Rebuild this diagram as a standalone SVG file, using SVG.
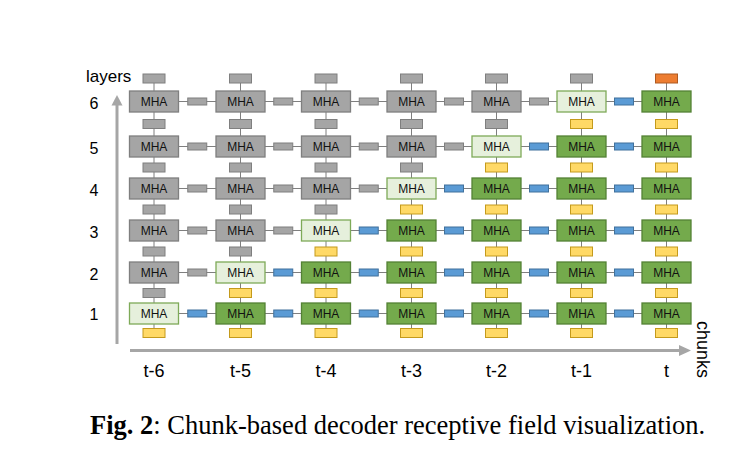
<svg xmlns="http://www.w3.org/2000/svg" width="748" height="452" viewBox="0 0 748 452">
<style>
.g{fill:#a5a5a5;stroke:#7f7f7f;stroke-width:1.3}
.l{fill:#e6f0dc;stroke:#7eaa58;stroke-width:1.3}
.d{fill:#74aa4c;stroke:#548235;stroke-width:1.3}
.sg{fill:#a5a5a5;stroke:#7f7f7f;stroke-width:1}
.y{fill:#ffd966;stroke:#c49a1c;stroke-width:1}
.b{fill:#5b9bd5;stroke:#41719c;stroke-width:1}
.o{fill:#ed7d31;stroke:#ae5a21;stroke-width:1}
.t{font-family:"Liberation Sans",Arial,sans-serif;font-size:12px;text-anchor:middle;fill:#111}
.lab{font-family:"Liberation Sans",Arial,sans-serif;fill:#000}
.ln{stroke:#7f7f7f;stroke-width:1;fill:none}
.ax{stroke:#a6a6a6;stroke-width:3;fill:none}
</style>
<rect width="748" height="452" fill="#fff"/>
<g id="connectors">
<path class="ln" d="M154 78V333M240.5 78V333M326 78V333M411.5 78V333M496.5 78V333M581.5 78V333M666.5 78V333"/>
<path class="ln" d="M154 313.5H666.5M154 272.5H666.5M154 230.5H666.5M154 188.5H666.5M154 146.5H666.5M154 101.5H666.5"/>
</g>
<g id="axes">
<path class="ax" d="M117 344V104"/>
<polygon points="117,95 111.5,105.5 122.5,105.5" fill="#a6a6a6"/>
<path class="ax" d="M130 350.5H680"/>
<polygon points="691,350.5 679,345 679,356" fill="#a6a6a6"/>
</g>
<g id="small-boxes">
<rect class="y" x="143" y="328.5" width="22" height="9"/>
<rect class="y" x="229.5" y="328.5" width="22" height="9"/>
<rect class="y" x="315" y="328.5" width="22" height="9"/>
<rect class="y" x="400.5" y="328.5" width="22" height="9"/>
<rect class="y" x="485.5" y="328.5" width="22" height="9"/>
<rect class="y" x="570.5" y="328.5" width="22" height="9"/>
<rect class="y" x="655.5" y="328.5" width="22" height="9"/>
<rect class="sg" x="143" y="288.5" width="22" height="9"/>
<rect class="y" x="229.5" y="288.5" width="22" height="9"/>
<rect class="y" x="315" y="288.5" width="22" height="9"/>
<rect class="y" x="400.5" y="288.5" width="22" height="9"/>
<rect class="y" x="485.5" y="288.5" width="22" height="9"/>
<rect class="y" x="570.5" y="288.5" width="22" height="9"/>
<rect class="y" x="655.5" y="288.5" width="22" height="9"/>
<rect class="sg" x="143" y="247" width="22" height="9"/>
<rect class="sg" x="229.5" y="247" width="22" height="9"/>
<rect class="y" x="315" y="247" width="22" height="9"/>
<rect class="y" x="400.5" y="247" width="22" height="9"/>
<rect class="y" x="485.5" y="247" width="22" height="9"/>
<rect class="y" x="570.5" y="247" width="22" height="9"/>
<rect class="y" x="655.5" y="247" width="22" height="9"/>
<rect class="sg" x="143" y="205" width="22" height="9"/>
<rect class="sg" x="229.5" y="205" width="22" height="9"/>
<rect class="sg" x="315" y="205" width="22" height="9"/>
<rect class="y" x="400.5" y="205" width="22" height="9"/>
<rect class="y" x="485.5" y="205" width="22" height="9"/>
<rect class="y" x="570.5" y="205" width="22" height="9"/>
<rect class="y" x="655.5" y="205" width="22" height="9"/>
<rect class="sg" x="143" y="163" width="22" height="9"/>
<rect class="sg" x="229.5" y="163" width="22" height="9"/>
<rect class="sg" x="315" y="163" width="22" height="9"/>
<rect class="sg" x="400.5" y="163" width="22" height="9"/>
<rect class="y" x="485.5" y="163" width="22" height="9"/>
<rect class="y" x="570.5" y="163" width="22" height="9"/>
<rect class="y" x="655.5" y="163" width="22" height="9"/>
<rect class="sg" x="143" y="119.5" width="22" height="9"/>
<rect class="sg" x="229.5" y="119.5" width="22" height="9"/>
<rect class="sg" x="315" y="119.5" width="22" height="9"/>
<rect class="sg" x="400.5" y="119.5" width="22" height="9"/>
<rect class="sg" x="485.5" y="119.5" width="22" height="9"/>
<rect class="y" x="570.5" y="119.5" width="22" height="9"/>
<rect class="y" x="655.5" y="119.5" width="22" height="9"/>
<rect class="sg" x="143" y="74" width="22" height="9"/>
<rect class="sg" x="229.5" y="74" width="22" height="9"/>
<rect class="sg" x="315" y="74" width="22" height="9"/>
<rect class="sg" x="400.5" y="74" width="22" height="9"/>
<rect class="sg" x="485.5" y="74" width="22" height="9"/>
<rect class="sg" x="570.5" y="74" width="22" height="9"/>
<rect class="o" x="655.5" y="74" width="22" height="9"/>
<rect class="b" x="187.75" y="310" width="19" height="7"/>
<rect class="b" x="273.75" y="310" width="19" height="7"/>
<rect class="b" x="359.25" y="310" width="19" height="7"/>
<rect class="b" x="444.5" y="310" width="19" height="7"/>
<rect class="b" x="529.5" y="310" width="19" height="7"/>
<rect class="b" x="614.5" y="310" width="19" height="7"/>
<rect class="sg" x="187.75" y="269" width="19" height="7"/>
<rect class="b" x="273.75" y="269" width="19" height="7"/>
<rect class="b" x="359.25" y="269" width="19" height="7"/>
<rect class="b" x="444.5" y="269" width="19" height="7"/>
<rect class="b" x="529.5" y="269" width="19" height="7"/>
<rect class="b" x="614.5" y="269" width="19" height="7"/>
<rect class="sg" x="187.75" y="227" width="19" height="7"/>
<rect class="sg" x="273.75" y="227" width="19" height="7"/>
<rect class="b" x="359.25" y="227" width="19" height="7"/>
<rect class="b" x="444.5" y="227" width="19" height="7"/>
<rect class="b" x="529.5" y="227" width="19" height="7"/>
<rect class="b" x="614.5" y="227" width="19" height="7"/>
<rect class="sg" x="187.75" y="185" width="19" height="7"/>
<rect class="sg" x="273.75" y="185" width="19" height="7"/>
<rect class="sg" x="359.25" y="185" width="19" height="7"/>
<rect class="b" x="444.5" y="185" width="19" height="7"/>
<rect class="b" x="529.5" y="185" width="19" height="7"/>
<rect class="b" x="614.5" y="185" width="19" height="7"/>
<rect class="sg" x="187.75" y="143" width="19" height="7"/>
<rect class="sg" x="273.75" y="143" width="19" height="7"/>
<rect class="sg" x="359.25" y="143" width="19" height="7"/>
<rect class="sg" x="444.5" y="143" width="19" height="7"/>
<rect class="b" x="529.5" y="143" width="19" height="7"/>
<rect class="b" x="614.5" y="143" width="19" height="7"/>
<rect class="sg" x="187.75" y="98" width="19" height="7"/>
<rect class="sg" x="273.75" y="98" width="19" height="7"/>
<rect class="sg" x="359.25" y="98" width="19" height="7"/>
<rect class="sg" x="444.5" y="98" width="19" height="7"/>
<rect class="sg" x="529.5" y="98" width="19" height="7"/>
<rect class="b" x="614.5" y="98" width="19" height="7"/>
</g>
<g id="mha-1-0"><rect class="l" x="129.5" y="303" width="49" height="21"/><text class="t" x="154" y="317.8">MHA</text></g>
<g id="mha-1-1"><rect class="d" x="216" y="303" width="49" height="21"/><text class="t" x="240.5" y="317.8">MHA</text></g>
<g id="mha-1-2"><rect class="d" x="301.5" y="303" width="49" height="21"/><text class="t" x="326" y="317.8">MHA</text></g>
<g id="mha-1-3"><rect class="d" x="387" y="303" width="49" height="21"/><text class="t" x="411.5" y="317.8">MHA</text></g>
<g id="mha-1-4"><rect class="d" x="472" y="303" width="49" height="21"/><text class="t" x="496.5" y="317.8">MHA</text></g>
<g id="mha-1-5"><rect class="d" x="557" y="303" width="49" height="21"/><text class="t" x="581.5" y="317.8">MHA</text></g>
<g id="mha-1-6"><rect class="d" x="642" y="303" width="49" height="21"/><text class="t" x="666.5" y="317.8">MHA</text></g>
<g id="mha-2-0"><rect class="g" x="129.5" y="262" width="49" height="21"/><text class="t" x="154" y="276.8">MHA</text></g>
<g id="mha-2-1"><rect class="l" x="216" y="262" width="49" height="21"/><text class="t" x="240.5" y="276.8">MHA</text></g>
<g id="mha-2-2"><rect class="d" x="301.5" y="262" width="49" height="21"/><text class="t" x="326" y="276.8">MHA</text></g>
<g id="mha-2-3"><rect class="d" x="387" y="262" width="49" height="21"/><text class="t" x="411.5" y="276.8">MHA</text></g>
<g id="mha-2-4"><rect class="d" x="472" y="262" width="49" height="21"/><text class="t" x="496.5" y="276.8">MHA</text></g>
<g id="mha-2-5"><rect class="d" x="557" y="262" width="49" height="21"/><text class="t" x="581.5" y="276.8">MHA</text></g>
<g id="mha-2-6"><rect class="d" x="642" y="262" width="49" height="21"/><text class="t" x="666.5" y="276.8">MHA</text></g>
<g id="mha-3-0"><rect class="g" x="129.5" y="220" width="49" height="21"/><text class="t" x="154" y="234.8">MHA</text></g>
<g id="mha-3-1"><rect class="g" x="216" y="220" width="49" height="21"/><text class="t" x="240.5" y="234.8">MHA</text></g>
<g id="mha-3-2"><rect class="l" x="301.5" y="220" width="49" height="21"/><text class="t" x="326" y="234.8">MHA</text></g>
<g id="mha-3-3"><rect class="d" x="387" y="220" width="49" height="21"/><text class="t" x="411.5" y="234.8">MHA</text></g>
<g id="mha-3-4"><rect class="d" x="472" y="220" width="49" height="21"/><text class="t" x="496.5" y="234.8">MHA</text></g>
<g id="mha-3-5"><rect class="d" x="557" y="220" width="49" height="21"/><text class="t" x="581.5" y="234.8">MHA</text></g>
<g id="mha-3-6"><rect class="d" x="642" y="220" width="49" height="21"/><text class="t" x="666.5" y="234.8">MHA</text></g>
<g id="mha-4-0"><rect class="g" x="129.5" y="178" width="49" height="21"/><text class="t" x="154" y="192.8">MHA</text></g>
<g id="mha-4-1"><rect class="g" x="216" y="178" width="49" height="21"/><text class="t" x="240.5" y="192.8">MHA</text></g>
<g id="mha-4-2"><rect class="g" x="301.5" y="178" width="49" height="21"/><text class="t" x="326" y="192.8">MHA</text></g>
<g id="mha-4-3"><rect class="l" x="387" y="178" width="49" height="21"/><text class="t" x="411.5" y="192.8">MHA</text></g>
<g id="mha-4-4"><rect class="d" x="472" y="178" width="49" height="21"/><text class="t" x="496.5" y="192.8">MHA</text></g>
<g id="mha-4-5"><rect class="d" x="557" y="178" width="49" height="21"/><text class="t" x="581.5" y="192.8">MHA</text></g>
<g id="mha-4-6"><rect class="d" x="642" y="178" width="49" height="21"/><text class="t" x="666.5" y="192.8">MHA</text></g>
<g id="mha-5-0"><rect class="g" x="129.5" y="136" width="49" height="21"/><text class="t" x="154" y="150.8">MHA</text></g>
<g id="mha-5-1"><rect class="g" x="216" y="136" width="49" height="21"/><text class="t" x="240.5" y="150.8">MHA</text></g>
<g id="mha-5-2"><rect class="g" x="301.5" y="136" width="49" height="21"/><text class="t" x="326" y="150.8">MHA</text></g>
<g id="mha-5-3"><rect class="g" x="387" y="136" width="49" height="21"/><text class="t" x="411.5" y="150.8">MHA</text></g>
<g id="mha-5-4"><rect class="l" x="472" y="136" width="49" height="21"/><text class="t" x="496.5" y="150.8">MHA</text></g>
<g id="mha-5-5"><rect class="d" x="557" y="136" width="49" height="21"/><text class="t" x="581.5" y="150.8">MHA</text></g>
<g id="mha-5-6"><rect class="d" x="642" y="136" width="49" height="21"/><text class="t" x="666.5" y="150.8">MHA</text></g>
<g id="mha-6-0"><rect class="g" x="129.5" y="91" width="49" height="21"/><text class="t" x="154" y="105.8">MHA</text></g>
<g id="mha-6-1"><rect class="g" x="216" y="91" width="49" height="21"/><text class="t" x="240.5" y="105.8">MHA</text></g>
<g id="mha-6-2"><rect class="g" x="301.5" y="91" width="49" height="21"/><text class="t" x="326" y="105.8">MHA</text></g>
<g id="mha-6-3"><rect class="g" x="387" y="91" width="49" height="21"/><text class="t" x="411.5" y="105.8">MHA</text></g>
<g id="mha-6-4"><rect class="g" x="472" y="91" width="49" height="21"/><text class="t" x="496.5" y="105.8">MHA</text></g>
<g id="mha-6-5"><rect class="l" x="557" y="91" width="49" height="21"/><text class="t" x="581.5" y="105.8">MHA</text></g>
<g id="mha-6-6"><rect class="d" x="642" y="91" width="49" height="21"/><text class="t" x="666.5" y="105.8">MHA</text></g>
<g id="labels" class="lab">
<text x="86" y="82" font-size="17">layers</text>
<g font-size="16" text-anchor="middle">
<text x="94" y="108.5">6</text>
<text x="94" y="153.5">5</text>
<text x="94" y="195.5">4</text>
<text x="94" y="237.5">3</text>
<text x="94" y="279.5">2</text>
<text x="94" y="320">1</text>
</g>
<g font-size="18" text-anchor="middle">
<text x="154" y="377">t-6</text>
<text x="240.5" y="377">t-5</text>
<text x="326" y="377">t-4</text>
<text x="411.5" y="377">t-3</text>
<text x="496.5" y="377">t-2</text>
<text x="581.5" y="377">t-1</text>
<text x="666.5" y="377">t</text>
</g>
<text font-size="18" transform="translate(697 321) rotate(90)">chunks</text>
</g>
<text id="caption" x="90" y="434" font-family="'Liberation Serif','Times New Roman',serif" font-size="26.5" fill="#000"><tspan font-weight="bold">Fig. 2</tspan>: Chunk-based decoder receptive field visualization.</text>
</svg>
